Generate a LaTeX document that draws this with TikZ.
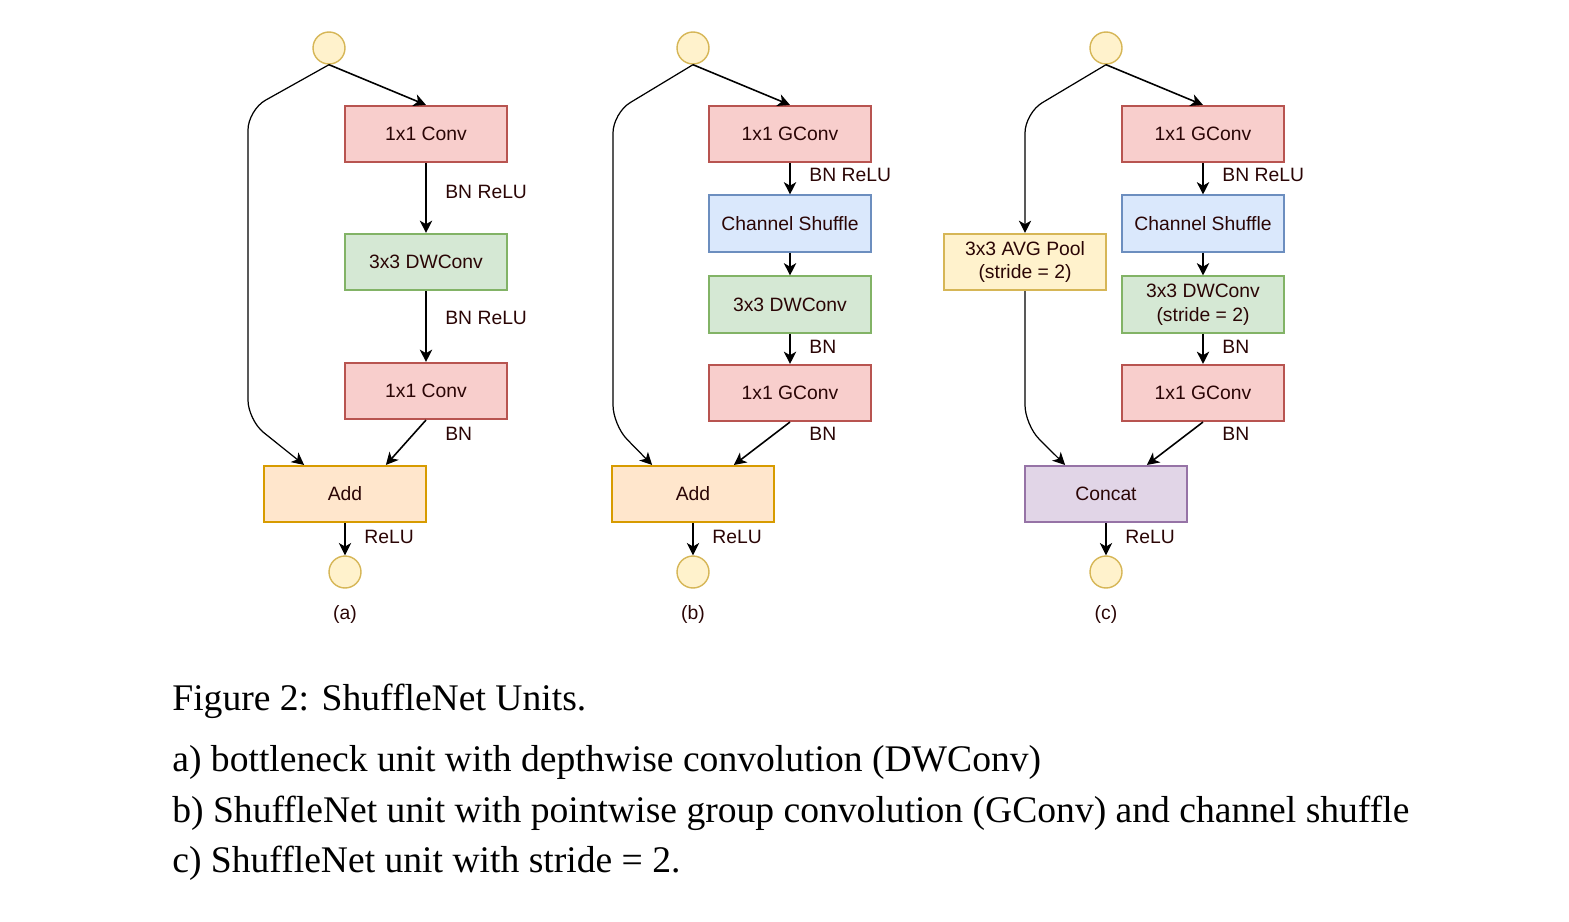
\documentclass[tikz,border=0pt]{standalone}
\usepackage{fontspec}
\setmainfont{Liberation Serif}
\newfontfamily\boxfont{Liberation Sans}
\usepackage{xcolor}
\usepackage{tikz}
\usetikzlibrary{arrows.meta,calc}

\definecolor{convfill}{HTML}{F8CECC}
\definecolor{convline}{HTML}{B85450}
\definecolor{dwfill}{HTML}{D5E8D4}
\definecolor{dwline}{HTML}{82B366}
\definecolor{shufill}{HTML}{DAE8FC}
\definecolor{shuline}{HTML}{6C8EBF}
\definecolor{addfill}{HTML}{FFE6CC}
\definecolor{addline}{HTML}{D79B00}
\definecolor{iofill}{HTML}{FFF2CC}
\definecolor{ioline}{HTML}{D6B656}
\definecolor{catfill}{HTML}{E1D5E7}
\definecolor{catline}{HTML}{9673A6}
\definecolor{boxtext}{HTML}{2A0505}

\begin{document}
\begin{tikzpicture}[x=0.02cm, y=-0.02cm, font=\boxfont\fontsize{11}{13.5}\selectfont,
	blk/.style={draw, line width=0.9pt, minimum width=3.24cm, minimum height=1.13cm, inner sep=0pt, align=center, text=boxtext},
	conv/.style={blk, fill=convfill, draw=convline},
	dwconv/.style={blk, fill=dwfill, draw=dwline},
	shuffle/.style={blk, fill=shufill, draw=shuline},
	merge/.style={blk, fill=addfill, draw=addline},
	pool/.style={blk, fill=iofill, draw=ioline},
	concat/.style={blk, fill=catfill, draw=catline},
	io/.style={circle, draw=ioline, fill=iofill, line width=0.8pt, minimum size=0.64cm, inner sep=0pt},
	flow/.style={-{Stealth[length=7pt, width=7pt, inset=2pt]}, line width=0.9pt},
	skip/.style={flow, line width=0.7pt, rounded corners=0.4cm},
	lbl/.style={anchor=west, inner sep=0pt, text=boxtext},
	capline/.style={anchor=base west, inner sep=0pt, font=\fontsize{21.4}{25}\selectfont}]
	\useasboundingbox (0,0) rectangle (1569,922);

	% (a) bottleneck unit
	\node[io] (ina) at (329,48) {};
	\node[conv] (c1a) at (426,134) {1x1 Conv};
	\node[dwconv] (dwa) at (426,262) {3x3 DWConv};
	\node[conv] (c2a) at (426,391) {1x1 Conv};
	\node[merge] (adda) at (345,494) {Add};
	\node[io] (outa) at (345,572) {};
	\node[text=boxtext] (taga) at (345,614) {(a)};
	\draw[flow] (ina.south) -- (c1a.north);
	\draw[flow] (c1a.south) -- (dwa.north);
	\draw[flow] (dwa.south) -- (c2a.north);
	\draw[flow] (c2a.south) -- ($(adda.north west)!.75!(adda.north east)$);
	\draw[flow] (adda.south) -- (outa.north);
	\draw[skip] (ina.south) -- (248,110) -- (248,420) -- ($(adda.north west)!.25!(adda.north east)$);
	\node[lbl] (la1) at (445,192) {BN ReLU};
	\node[lbl] (la2) at (445,318) {BN ReLU};
	\node[lbl] (la3) at (445,434) {BN};
	\node[lbl] (la4) at (364,537) {ReLU};

	% (b) shufflenet unit
	\node[io] (inb) at (693,48) {};
	\node[conv] (g1b) at (790,134) {1x1 GConv};
	\node[shuffle] (shb) at (790,223.5) {Channel Shuffle};
	\node[dwconv] (dwb) at (790,304.5) {3x3 DWConv};
	\node[conv] (g2b) at (790,393) {1x1 GConv};
	\node[merge] (addb) at (693,494) {Add};
	\node[io] (outb) at (693,572) {};
	\node[text=boxtext] (tagb) at (693,614) {(b)};
	\draw[flow] (inb.south) -- (g1b.north);
	\draw[flow] (g1b.south) -- (shb.north);
	\draw[flow] (shb.south) -- (dwb.north);
	\draw[flow] (dwb.south) -- (g2b.north);
	\draw[flow] (g2b.south) -- ($(addb.north west)!.75!(addb.north east)$);
	\draw[flow] (addb.south) -- (outb.north);
	\draw[skip] (inb.south) -- (613,113) -- (613,425) -- ($(addb.north west)!.25!(addb.north east)$);
	\node[lbl] (lb1) at (809,175) {BN ReLU};
	\node[lbl] (lb2) at (809,347) {BN};
	\node[lbl] (lb3) at (809,434) {BN};
	\node[lbl] (lb4) at (712,537) {ReLU};

	% (c) shufflenet unit, stride 2
	\node[io] (inc) at (1106,48) {};
	\node[conv] (g1c) at (1203,134) {1x1 GConv};
	\node[shuffle] (shc) at (1203,223.5) {Channel Shuffle};
	\node[dwconv] (dwc) at (1203,304.5) {3x3 DWConv\\(stride = 2)};
	\node[conv] (g2c) at (1203,393) {1x1 GConv};
	\node[pool] (poolc) at (1025,262) {3x3 AVG Pool\\(stride = 2)};
	\node[concat] (catc) at (1106,494) {Concat};
	\node[io] (outc) at (1106,572) {};
	\node[text=boxtext] (tagc) at (1106,614) {(c)};
	\draw[flow] (inc.south) -- (g1c.north);
	\draw[flow] (g1c.south) -- (shc.north);
	\draw[flow] (shc.south) -- (dwc.north);
	\draw[flow] (dwc.south) -- (g2c.north);
	\draw[flow] (g2c.south) -- ($(catc.north west)!.75!(catc.north east)$);
	\draw[flow] (catc.south) -- (outc.north);
	\draw[skip] (inc.south) -- (1025,113) -- (poolc.north);
	\draw[skip] (poolc.south) -- (1025,425) -- ($(catc.north west)!.25!(catc.north east)$);
	\node[lbl] (lc1) at (1222,175) {BN ReLU};
	\node[lbl] (lc2) at (1222,347) {BN};
	\node[lbl] (lc3) at (1222,434) {BN};
	\node[lbl] (lc4) at (1125,537) {ReLU};

	% caption
	\node[capline] (title) at (172,710) {Figure 2: ShuffleNet Units.};
	\node[capline] (capa) at (172,771) {a) bottleneck unit with depthwise convolution (DWConv)};
	\node[capline] (capb) at (172,822) {b) ShuffleNet unit with pointwise group convolution (GConv) and channel shuffle};
	\node[capline] (capc) at (172,872) {c) ShuffleNet unit with stride = 2.};
\end{tikzpicture}
\end{document}
